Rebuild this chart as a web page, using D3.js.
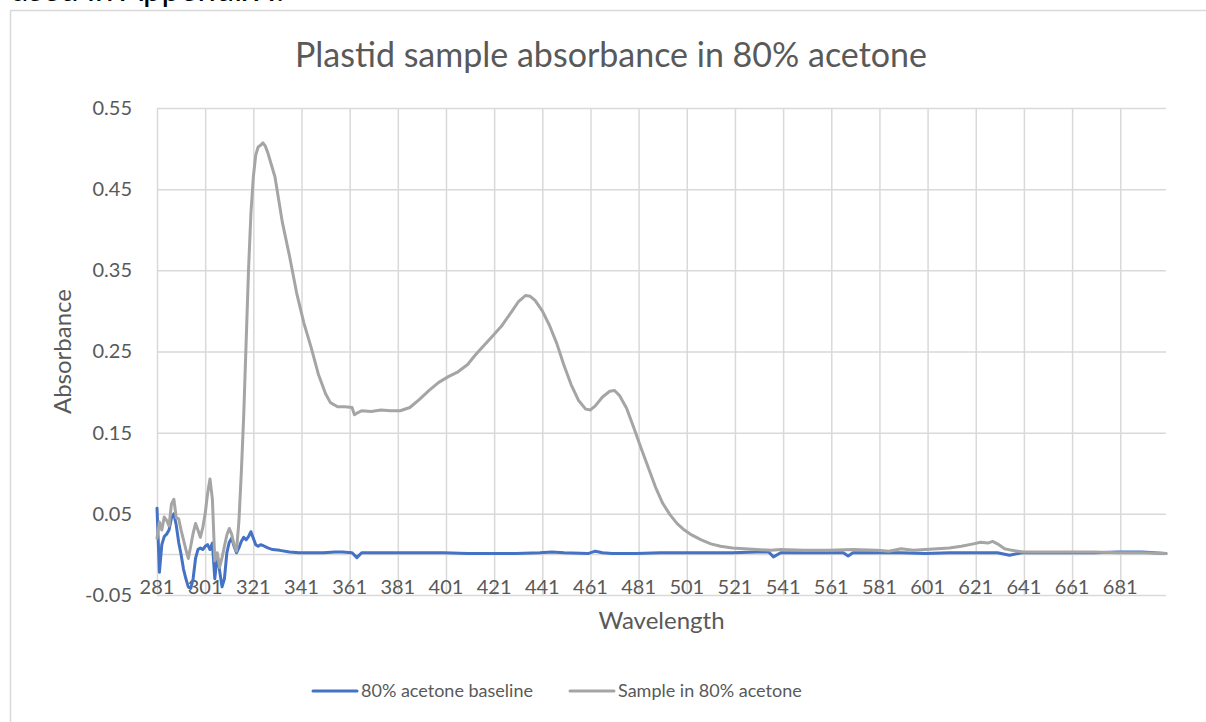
<!DOCTYPE html>
<html>
<head>
<meta charset="utf-8">
<script src="https://cdn.jsdelivr.net/npm/d3@7"></script>
<style>
  body { margin: 0; background: #fff; }
  text { font-family: Lato, "Open Sans", sans-serif; }
</style>
</head>
<body>
<div id="chart-container"></div>
<script>
// wavelengths (nm) and absorbance
const sampleWl = [281, 282, 283, 284, 285, 286, 287, 288, 289, 290, 291, 292, 293, 294, 295, 296, 297, 298, 299, 300,
    301, 302, 303, 304, 305, 306, 307, 308, 309, 310, 311, 312, 313, 314, 315, 316, 317, 318, 319, 320,
    321, 322, 323, 324, 325, 326, 327, 328, 330, 333, 336, 339, 342, 345, 348, 351, 353, 356, 359, 362,
    363, 364, 366, 370, 374, 378, 382, 386, 390, 394, 398, 402, 406, 410, 413, 416, 420, 424, 428, 431,
    434, 436, 438, 441, 444, 447, 450, 453, 456, 459, 461, 463, 466, 469, 471, 473, 476, 479, 482, 485,
    488, 491, 494, 497, 500, 503, 507, 511, 515, 520, 525, 530, 536, 540, 550, 560, 570, 580, 585, 590,
    595, 600, 605, 610, 615, 620, 623, 626, 628, 630, 633, 636, 641, 650, 660, 670, 680, 690, 700];
const sampleAbs = [0.020, 0.040, 0.030, 0.046, 0.042, 0.035, 0.062, 0.068, 0.045, 0.044, 0.030, 0.018, 0.006, -0.005, 0.010, 0.026, 0.038, 0.030, 0.021, 0.033,
    0.050, 0.075, 0.093, 0.068, -0.008, 0.002, -0.016, -0.004, 0.010, 0.024, 0.032, 0.025, 0.012, 0.004, 0.040, 0.100, 0.170, 0.260, 0.350, 0.420,
    0.465, 0.492, 0.502, 0.504, 0.507, 0.503, 0.495, 0.485, 0.465, 0.410, 0.368, 0.322, 0.285, 0.255, 0.222, 0.198, 0.187, 0.182, 0.182, 0.181,
    0.172, 0.174, 0.177, 0.176, 0.178, 0.177, 0.177, 0.181, 0.191, 0.202, 0.212, 0.219, 0.225, 0.234, 0.245, 0.255, 0.268, 0.281, 0.298, 0.311,
    0.319, 0.318, 0.313, 0.300, 0.282, 0.260, 0.233, 0.209, 0.190, 0.179, 0.178, 0.183, 0.194, 0.201, 0.202, 0.196, 0.180, 0.156, 0.131, 0.107,
    0.083, 0.063, 0.049, 0.038, 0.030, 0.024, 0.018, 0.013, 0.010, 0.008, 0.007, 0.006, 0.005, 0.006, 0.005, 0.005, 0.006, 0.005, 0.004, 0.007,
    0.005, 0.006, 0.007, 0.008, 0.010, 0.013, 0.015, 0.014, 0.016, 0.013, 0.007, 0.005, 0.003, 0.003, 0.003, 0.003, 0.002, 0.002, 0.001];

const baseWl = [281, 282, 283, 284, 285, 286, 287, 288, 289, 290, 291, 292, 293, 294, 295, 296, 297, 298, 299, 300,
    301, 302, 303, 304, 305, 306, 307, 308, 309, 310, 311, 312, 313, 314, 315, 316, 317, 318, 319, 320,
    321, 322, 323, 324, 325, 327, 329, 332, 336, 340, 345, 350, 355, 358, 362, 364, 366, 370, 380, 390,
    400, 410, 420, 430, 440, 445, 450, 460, 463, 466, 470, 480, 490, 500, 510, 520, 530, 535, 537, 540,
    550, 560, 566, 568, 570, 580, 590, 600, 610, 620, 630, 635, 640, 650, 660, 670, 680, 690, 700];
const baseAbs = [0.057, -0.022, 0.012, 0.022, 0.025, 0.030, 0.045, 0.050, 0.036, 0.015, 0.000, -0.018, -0.030, -0.040, -0.042, -0.030, -0.005, 0.006, 0.008, 0.006,
    0.010, 0.012, 0.006, 0.014, -0.030, 0.000, -0.020, -0.040, -0.030, 0.002, 0.015, 0.020, 0.010, 0.002, 0.008, 0.016, 0.021, 0.018, 0.022, 0.028,
    0.020, 0.012, 0.010, 0.012, 0.011, 0.008, 0.006, 0.005, 0.003, 0.002, 0.002, 0.002, 0.003, 0.003, 0.002, -0.004, 0.002, 0.002, 0.002, 0.002,
    0.002, 0.001, 0.001, 0.001, 0.002, 0.003, 0.002, 0.001, 0.004, 0.002, 0.001, 0.001, 0.002, 0.002, 0.002, 0.002, 0.003, 0.003, -0.003, 0.002,
    0.002, 0.002, 0.002, -0.002, 0.002, 0.002, 0.002, 0.001, 0.002, 0.002, 0.002, -0.001, 0.002, 0.002, 0.002, 0.002, 0.003, 0.003, 0.001];

const xTicks = [281, 301, 321, 341, 361, 381, 401, 421, 441, 461, 481, 501, 521, 541, 561, 581, 601, 621, 641, 661, 681];
const yTicks = [-0.05, 0.05, 0.15, 0.25, 0.35, 0.45, 0.55];
const yTickLabels = ["-0.05", "0.05", "0.15", "0.25", "0.35", "0.45", "0.55"];
const seriesNames = ["80% acetone baseline", "Sample in 80% acetone"];
const seriesColors = ["#4472C4", "#A5A5A5"];

const width = 1206, height = 722;
const plot = { left: 157, right: 1166, top: 108, bottom: 595 };
const textColor = "#595959", gridColor = "#d9d9d9";

const svg = d3.select("#chart-container")
    .append("svg")
    .attr("width", width)
    .attr("height", height);

svg.append("rect").attr("width", width).attr("height", height).attr("fill", "#fff");

// leftover document text, cut off by the top of the picture
svg.append("text")
    .attr("x", 10)
    .attr("y", 1)
    .attr("font-size", "33px")
    .attr("fill", "#000")
    .text("used in Appendix I.");

// chart area border (runs off the right and bottom of the picture)
svg.append("rect")
    .attr("x", 10.5).attr("y", 10.5)
    .attr("width", 1230).attr("height", 740)
    .attr("fill", "#fff")
    .attr("stroke", gridColor)
    .attr("stroke-width", 1.5);

const x = d3.scaleLinear().domain([281, 700]).range([plot.left, plot.right]);
const y = d3.scaleLinear().domain([-0.05, 0.55]).range([plot.bottom, plot.top]);

// horizontal gridlines + value labels
const yAxis = svg.append("g")
    .attr("transform", `translate(${plot.left},0)`)
    .call(d3.axisLeft(y)
        .tickValues(yTicks)
        .tickSize(-(plot.right - plot.left))
        .tickPadding(25)
        .tickFormat((d, i) => yTickLabels[i]));
yAxis.select(".domain").remove();
yAxis.selectAll("line").attr("stroke", gridColor).attr("stroke-width", 1.5);
yAxis.selectAll("text").attr("fill", textColor).attr("font-size", "20px").attr("font-family", "Lato");

// zero line
svg.append("line")
    .attr("x1", plot.left).attr("x2", plot.right)
    .attr("y1", y(0)).attr("y2", y(0))
    .attr("stroke", gridColor).attr("stroke-width", 1.5);

// vertical gridlines
const xAxis = svg.append("g")
    .attr("transform", `translate(0,${plot.bottom})`)
    .call(d3.axisBottom(x)
        .tickValues(xTicks)
        .tickSize(-(plot.bottom - plot.top))
        .tickFormat(""));
xAxis.select(".domain").remove();
xAxis.selectAll("line").attr("stroke", gridColor).attr("stroke-width", 1.5);

// category labels sit just on the bottom gridline
svg.selectAll(".x-label")
    .data(xTicks)
    .enter()
    .append("text")
    .attr("class", "x-label")
    .attr("x", d => x(d))
    .attr("y", plot.bottom - 1)
    .attr("text-anchor", "middle")
    .attr("font-size", "20px")
    .attr("fill", textColor)
    .text(d => d);

// series
const line = d3.line()
    .x(d => x(d[0]))
    .y(d => y(d[1]));

const series = [
    d3.zip(baseWl, baseAbs),
    d3.zip(sampleWl, sampleAbs)
];

svg.selectAll(".series")
    .data(series)
    .enter()
    .append("path")
    .attr("class", "series")
    .attr("d", line)
    .attr("fill", "none")
    .attr("stroke", (d, i) => seriesColors[i])
    .attr("stroke-width", 3)
    .attr("stroke-linejoin", "round")
    .attr("stroke-linecap", "round");

// titles
svg.append("text")
    .attr("x", 611)
    .attr("y", 67)
    .attr("text-anchor", "middle")
    .attr("font-size", "34px")
    .attr("fill", textColor)
    .text("Plastid sample absorbance in 80% acetone");

svg.append("text")
    .attr("x", (plot.left + plot.right) / 2)
    .attr("y", 629)
    .attr("text-anchor", "middle")
    .attr("font-size", "24px")
    .attr("fill", textColor)
    .text("Wavelength");

svg.append("text")
    .attr("transform", `translate(71,${(plot.top + plot.bottom) / 2}) rotate(-90)`)
    .attr("text-anchor", "middle")
    .attr("font-size", "24px")
    .attr("fill", textColor)
    .text("Absorbance");

// legend
const legendX = [313, 570];
const legend = svg.selectAll(".legend-item")
    .data(seriesNames)
    .enter()
    .append("g")
    .attr("class", "legend-item")
    .attr("transform", (d, i) => `translate(${legendX[i]},691)`);

legend.append("line")
    .attr("x1", 0).attr("x2", 44)
    .attr("stroke", (d, i) => seriesColors[i])
    .attr("stroke-width", 3)
    .attr("stroke-linecap", "round");

legend.append("text")
    .attr("x", 48)
    .attr("y", 6)
    .attr("font-size", "18px")
    .attr("fill", textColor)
    .text(d => d);
</script>
</body>
</html>
